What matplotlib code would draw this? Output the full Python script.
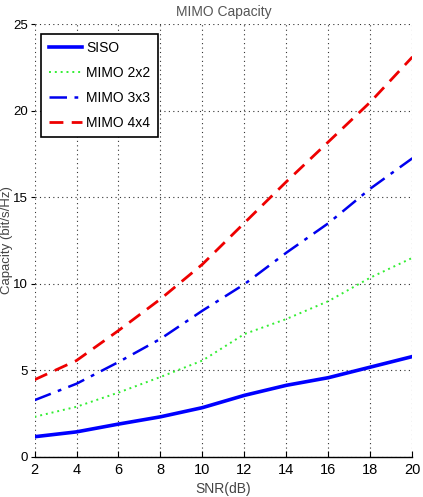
import matplotlib
matplotlib.use("Agg")
import matplotlib.pyplot as plt

snr = [2, 4, 6, 8, 10, 12, 14, 16, 18, 20]
siso = [1.17, 1.45, 1.90, 2.32, 2.85, 3.56, 4.14, 4.58, 5.19, 5.80]
mimo22 = [2.32, 2.90, 3.72, 4.62, 5.57, 7.10, 7.97, 9.00, 10.36, 11.50]
mimo33 = [3.28, 4.23, 5.48, 6.82, 8.45, 9.98, 11.80, 13.50, 15.50, 17.25]
mimo44 = [4.46, 5.57, 7.30, 9.12, 11.13, 13.52, 15.90, 18.20, 20.50, 23.10]
xticks = [2, 4, 6, 8, 10, 12, 14, 16, 18, 20]
yticks = [0, 5, 10, 15, 20, 25]

plt.rcParams['font.family'] = ['Liberation Sans', 'DejaVu Sans']

fig = plt.figure(figsize=(4.23, 4.97), dpi=100)
ax = fig.add_axes([0.0816, 0.0805, 0.8934, 0.8712])

ax.plot(snr, siso, color='#0000ff', lw=2.6, ls='-', label='SISO')
ax.plot(snr, mimo22, color='#33ee33', lw=1.4, ls=(0, (1, 2)), label='MIMO 2x2')
ax.plot(snr, mimo33, color='#0000ee', lw=1.8, ls=(0, (7, 3, 1.5, 3)), label='MIMO 3x3')
ax.plot(snr, mimo44, color='#ee0000', lw=2.0, ls=(0, (5, 3)), label='MIMO 4x4')

ax.set_xlim(2, 20)
ax.set_ylim(0, 25)
ax.set_xticks(xticks)
ax.set_yticks(yticks)
ax.grid(True, color='#333333', ls=(0, (1, 3)), lw=0.8)
for s in ['top', 'right', 'left']:
    ax.spines[s].set_visible(False)
ax.spines['bottom'].set_linewidth(1.0)
ax.tick_params(axis='x', direction='in', length=4, labelsize=10.5, pad=4)
ax.tick_params(axis='y', direction='out', length=3, labelsize=9.5, pad=2)

ax.set_title('MIMO Capacity', fontsize=10, color='#555555', pad=6)
ax.set_xlabel('SNR(dB)', fontsize=10, color='#444444', labelpad=4)
ax.set_ylabel('Capacity (bit/s/Hz)', fontsize=9.5, color='#444444')
ax.yaxis.set_label_coords(-0.058, 0.5)

leg = ax.legend(loc='upper left', bbox_to_anchor=(0.018, 0.978), fontsize=10,
                frameon=True, fancybox=False, edgecolor='black', framealpha=1,
                handlelength=2.4, handletextpad=0.3, borderpad=0.55,
                labelspacing=0.78, borderaxespad=0)
leg.get_frame().set_linewidth(1.2)

fig.savefig('out.png', dpi=100)
